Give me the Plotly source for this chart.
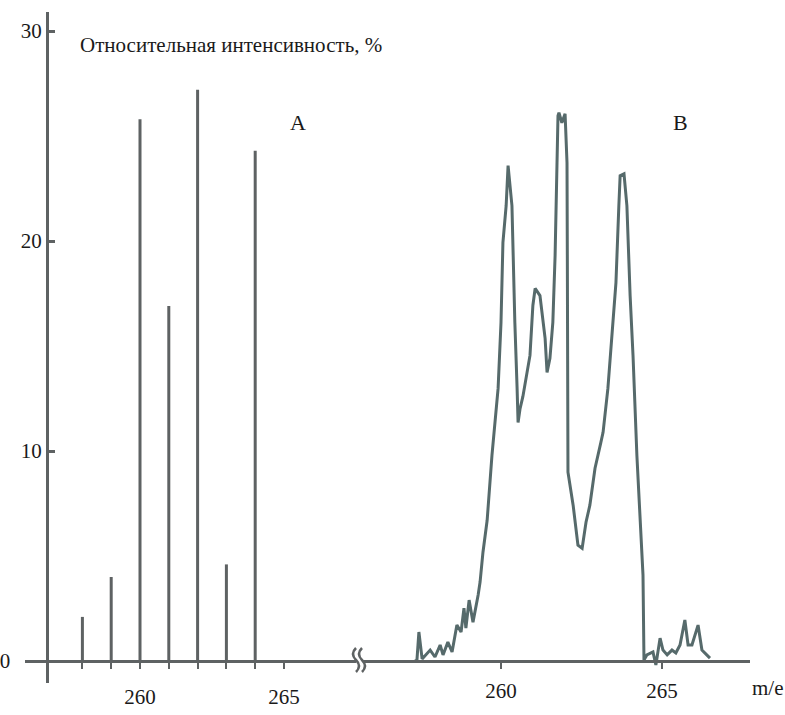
import plotly.graph_objects as go

# ---- data ----
a_mz = [258, 259, 260, 261, 262, 263, 264]
a_int = [2.1, 4.0, 25.8, 16.9, 27.2, 4.6, 24.3]

b_mz = [257.33, 257.39, 257.45, 257.55, 257.80, 257.95, 258.11, 258.20, 258.35, 258.48,
        258.63, 258.76, 258.85, 258.91, 259.01, 259.13, 259.29, 259.35, 259.44, 259.57,
        259.72, 259.91, 260.00, 260.06, 260.16, 260.22, 260.34, 260.37, 260.43, 260.50,
        260.53, 260.59, 260.68, 260.90, 260.99, 261.06, 261.21, 261.37, 261.43, 261.52, 261.61,
        261.68, 261.71, 261.77, 261.80, 261.89, 261.99, 262.05, 262.06, 262.06, 262.08,
        262.24, 262.39, 262.52, 262.64, 262.76, 262.92, 263.10, 263.17, 263.32, 263.48, 263.57,
        263.66, 263.70, 263.82, 263.91, 264.01, 264.10, 264.22, 264.32, 264.41, 264.44,
        264.53, 264.72, 264.81, 264.94, 265.03, 265.16, 265.31, 265.43, 265.56, 265.71,
        265.81, 265.93, 266.02, 266.12, 266.24, 266.34, 266.49]
b_int = [0.0, 0.05, 1.38, 0.10, 0.52, 0.19, 0.76, 0.29, 0.90, 0.43,
         1.71, 1.38, 2.52, 1.57, 2.90, 1.85, 3.14, 3.76, 5.18, 6.70,
         9.80, 12.98, 16.12, 19.92, 21.68, 23.59, 21.68, 19.31, 16.12, 12.98,
         11.36, 12.0, 12.6, 14.55, 16.93, 17.74, 17.40, 15.36, 13.74, 14.41, 16.12,
         19.31, 22.16, 25.96, 26.11, 25.63, 26.06, 23.73, 19.31, 14.55, 8.99,
         7.42, 5.52, 5.37, 6.61, 7.42, 9.18, 10.4, 10.89, 12.98, 16.12, 18.02,
         21.68, 23.11, 23.20, 21.68, 17.40, 14.55, 9.80, 6.61, 4.09, 0.05,
         0.29, 0.43, -0.19, 1.09, 0.52, 0.29, 0.52, 0.38, 0.76, 1.95,
         0.76, 0.76, 1.24, 1.71, 0.52, 0.38, 0.14]

y_ticks = [0, 10, 20, 30]
a_ticks = [258, 259, 260, 261, 262, 263, 264, 265]
a_ticklabels = ["", "", "260", "", "", "", "", "265"]
b_ticks = [260, 265]
b_ticklabels = ["260", "265"]

W, H = 785, 715
GRAY = "#5e6263"
TEAL = "#566a6b"
FONT = "Liberation Serif"


def px(x):
    return x / W


def py(y):
    return 1 - y / H


# sticks for spectrum A
sx, sy = [], []
for m, v in zip(a_mz, a_int):
    sx += [m, m, None]
    sy += [0, v, None]

fig = go.Figure()
fig.add_trace(go.Scatter(x=sx, y=sy, mode="lines", xaxis="x", yaxis="y",
                         line=dict(color=GRAY, width=3), hoverinfo="skip",
                         showlegend=False))
fig.add_trace(go.Scatter(x=b_mz, y=b_int, mode="lines", xaxis="x2", yaxis="y",
                         line=dict(color=TEAL, width=3), showlegend=False))

axis_y_pix = 661  # baseline pixel
scale = 21.0      # px per unit
y_top_pix, y_bot_pix = 12, 683

fig.update_layout(
    width=W, height=H,
    margin=dict(l=0, r=0, t=0, b=0),
    paper_bgcolor="white", plot_bgcolor="rgba(0,0,0,0)",
    font=dict(family=FONT, color="#1a1a1a"),
    yaxis=dict(
        domain=[py(y_bot_pix), py(y_top_pix)],
        range=[-(y_bot_pix - axis_y_pix) / scale, (axis_y_pix - y_top_pix) / scale],
        anchor="free", position=px(47),
        showline=True, linecolor=GRAY, linewidth=3,
        ticks="inside", ticklen=6, tickwidth=3, tickcolor=GRAY,
        tickvals=y_ticks,
        ticktext=["0\u00a0\u00a0\u00a0\u00a0\u00a0\u00a0", "10", "20", "30"],
        tickfont=dict(size=21, family=FONT, color="#1a1a1a"),
        showgrid=False, zeroline=False, fixedrange=True,
    ),
    xaxis=dict(
        domain=[px(25), px(356)],
        range=[260 + (25 - 140) / 28.8, 260 + (356 - 140) / 28.8],
        anchor="free", position=py(axis_y_pix),
        showline=True, linecolor=GRAY, linewidth=3,
        ticks="outside", ticklen=6, tickwidth=2, tickcolor=GRAY,
        tickvals=a_ticks, ticktext=a_ticklabels,
        tickfont=dict(size=21, family=FONT, color="#1a1a1a"),
        ticklabelstandoff=10,
        showgrid=False, zeroline=False,
    ),
    xaxis2=dict(
        domain=[px(363), px(750)],
        range=[260 + (363 - 501) / 32.2, 260 + (750 - 501) / 32.2],
        anchor="free", position=py(axis_y_pix),
        showline=True, linecolor=GRAY, linewidth=3,
        ticks="outside", ticklen=6, tickwidth=2, tickcolor=GRAY,
        tickvals=b_ticks, ticktext=b_ticklabels,
        tickfont=dict(size=21, family=FONT, color="#1a1a1a"),
        ticklabelstandoff=4,
        showgrid=False, zeroline=False,
    ),
)


def wave(x0, y0, h):
    pts = (f"M {px(x0)},{py(y0)} "
           f"Q {px(x0 - 6)},{py(y0 + h * 0.25)} {px(x0)},{py(y0 + h * 0.5)} "
           f"T {px(x0)},{py(y0 + h)}")
    return pts


for xb in (356, 362):
    fig.add_shape(type="path", xref="paper", yref="paper",
                  path=wave(xb, 648, 24), line=dict(color=GRAY, width=2.5))

TXT = dict(family=FONT, color="#1a1a1a")
fig.add_annotation(x=px(78), y=py(45), xref="paper", yref="paper",
                   xanchor="left", yanchor="middle",
                   text="Относительная интенсивность, %", showarrow=False,
                   font=dict(size=21, **TXT))
fig.add_annotation(x=px(298), y=py(122), xref="paper", yref="paper",
                   xanchor="center", yanchor="middle",
                   text="A", showarrow=False, font=dict(size=22, **TXT))
fig.add_annotation(x=px(680), y=py(122), xref="paper", yref="paper",
                   xanchor="center", yanchor="middle",
                   text="B", showarrow=False, font=dict(size=22, **TXT))
fig.add_annotation(x=px(768), y=py(688), xref="paper", yref="paper",
                   xanchor="center", yanchor="middle",
                   text="m/e", showarrow=False, font=dict(size=21, **TXT))

fig.write_html("out.html")
